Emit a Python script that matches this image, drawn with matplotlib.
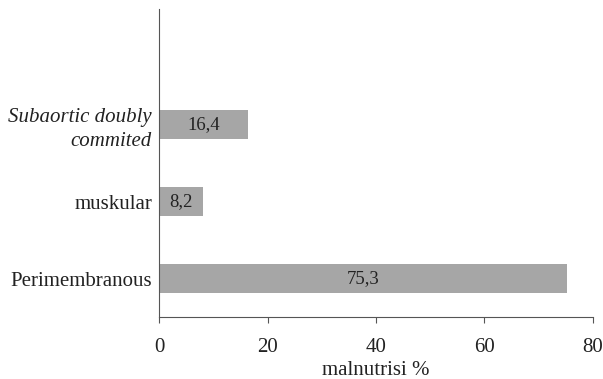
import matplotlib
matplotlib.use('Agg')
import matplotlib.pyplot as plt

# Data
categories = ['Perimembranous', 'muskular', 'Subaortic doubly\ncommited']
values = [75.3, 8.2, 16.4]
value_labels = ['75,3', '8,2', '16,4']
xticks = [0, 20, 40, 60, 80]

plt.rcParams['font.family'] = ['Liberation Serif', 'DejaVu Serif']
fs = 15

fig = plt.figure(figsize=(6.03, 3.79), dpi=100)
ax = fig.add_axes([0.2637, 0.1636, 0.7197, 0.8124])

ypos = list(range(len(categories)))
ax.barh(ypos, values, height=0.37, color='#a6a6a6')

for y, v, lab in zip(ypos, values, value_labels):
    ax.text(v / 2, y, lab, ha='center', va='center', fontsize=13.5, color='#222222')

ax.set_xlim(0, 80)
ax.set_ylim(-0.5, 3.5)
ax.set_xticks(xticks)
ax.set_xticklabels([str(t) for t in xticks], fontsize=fs)
ax.set_yticks(ypos)
ax.set_yticklabels(categories, fontsize=fs)
for lbl in ax.get_yticklabels():
    lbl.set_color('#222222')
    if 'Subaortic' in lbl.get_text():
        lbl.set_style('italic')
        lbl.set_linespacing(1.35)
for lbl in ax.get_xticklabels():
    lbl.set_color('#222222')
ax.tick_params(axis='y', length=0, pad=5)
ax.tick_params(axis='x', length=4, width=0.8, color='#555555', pad=11)
ax.set_xlabel('malnutrisi %', fontsize=fs, labelpad=3, color='#222222')

for s in ['top', 'right']:
    ax.spines[s].set_visible(False)
ax.spines['left'].set_color('#555555')
ax.spines['bottom'].set_color('#555555')

fig.savefig('out.png', dpi=100)
